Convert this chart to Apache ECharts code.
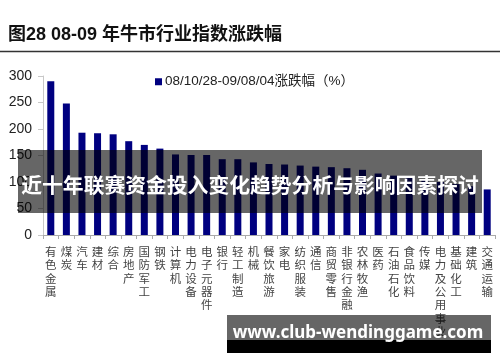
<!DOCTYPE html>
<html>
<head>
<meta charset="utf-8">
<script src="https://cdn.jsdelivr.net/npm/echarts@6/dist/echarts.min.js"></script>
<style>
html,body{margin:0;padding:0;background:#fff;}
#c{width:500px;height:362px;}
</style>
</head>
<body>
<div id="c"></div>
<script>
var categories = ['有色金属','煤炭','汽车','建材','综合','房地产','国防军工','钢铁','计算机','电力设备','电子元器件','银行','轻工制造','机械','餐饮旅游','家电','纺织服装','通信','商贸零售','非银行金融','农林牧渔','医药','石油石化','食品饮料','传媒','电力及公用事业','基础化工','建筑','交通运输'];
var changePct = [290,248,193,192,190,177,170,163,152,151,151,143,143,137,134,133,131,129,128,126,123,116,112,108,104,100,96,92,86];
var seriesName = '08/10/28-09/08/04涨跌幅（%）';
var yTicks = [0,50,100,150,200,250,300];
var chartTitle = '图28 08-09 年牛市行业指数涨跌幅';
var bannerText = '近十年联赛资金投入变化趋势分析与影响因素探讨';
var footerText = 'www.club-wendinggame.com';

var chart = echarts.init(document.getElementById('c'), null, {renderer:'canvas'});
chart.setOption({
  animation:false,
  backgroundColor:'#fff',
  grid:{left:43,right:5,top:76,bottom:127,containLabel:false},
  legend:{
    data:[seriesName],
    left:150, top:70,
    icon:'rect', itemWidth:7, itemHeight:7, itemGap:5,
    textStyle:{fontSize:13.5,color:'#222',fontFamily:"'Liberation Sans','Noto Sans CJK SC',sans-serif",padding:[0,0,0,-2]}
  },
  xAxis:{
    type:'category',
    data:categories,
    axisLine:{lineStyle:{color:'#aaa',width:1}},
    axisTick:{show:true,length:4,lineStyle:{color:'#aaa'}},
    axisLabel:{
      interval:0, margin:10,
      fontSize:11.5, lineHeight:13.3, color:'#444',
      fontFamily:"'Noto Sans CJK SC',sans-serif",
      formatter:function(v){return v.split('').join('\n');}
    }
  },
  yAxis:{
    type:'value', min:yTicks[0], max:yTicks[yTicks.length-1], interval:50,
    axisLine:{show:true,lineStyle:{color:'#c8c8c8'}},
    axisTick:{show:true,length:5,lineStyle:{color:'#c8c8c8'}},
    splitLine:{show:false},
    axisLabel:{fontSize:14,color:'#222',margin:11,fontFamily:"'Liberation Sans',sans-serif"}
  },
  series:[{
    name:seriesName,
    type:'bar',
    data:changePct,
    barWidth:7,
    itemStyle:{color:'#000080'}
  }],
  graphic:[
    {type:'text',left:8,top:26,style:{text:chartTitle,fontSize:18,fontWeight:'bold',fill:'#111',fontFamily:"'Liberation Sans','Noto Sans CJK SC',sans-serif"}},
    {type:'line',shape:{x1:0,y1:51.5,x2:500,y2:51.5},style:{stroke:'#333',lineWidth:1.5}},
    {type:'rect',shape:{x:18,y:150,width:464,height:63},style:{fill:'rgba(0,0,0,0.6)'},z:100},
    {type:'text',x:250,y:185,style:{text:bannerText,fontSize:20.8,fontWeight:'bold',fill:'#fff',align:'center',verticalAlign:'middle',fontFamily:"'Noto Sans CJK SC',sans-serif"},z:101},
    {type:'rect',shape:{x:227,y:315,width:264,height:25},style:{fill:'rgba(0,0,0,0.6)'},z:100},
    {type:'rect',shape:{x:227,y:340,width:264,height:13},style:{fill:'#000'},z:100},
    {type:'text',x:358,y:333,style:{text:footerText,fontSize:17,fontWeight:'bold',fill:'#fff',align:'center',verticalAlign:'middle',fontFamily:"'Noto Sans',sans-serif"},z:101}
  ]
});
</script>
</body>
</html>
